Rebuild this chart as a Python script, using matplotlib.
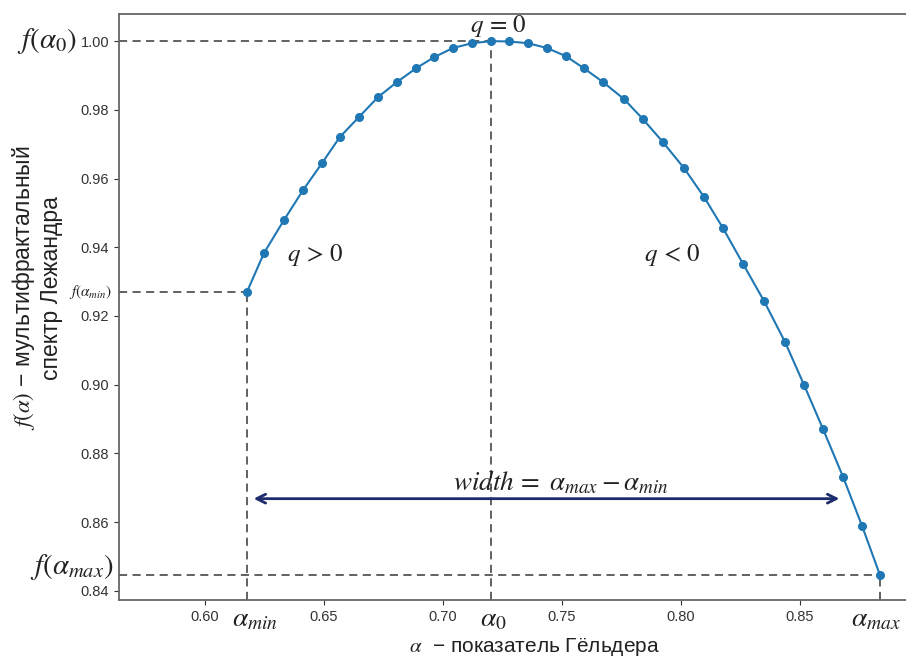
import matplotlib
matplotlib.use("Agg")
import matplotlib.pyplot as plt
import numpy as np

# Legendre multifractal spectrum f(alpha) versus the Hölder exponent alpha
alpha = [0.6176, 0.6248, 0.6332, 0.6412, 0.6492, 0.6567, 0.6647, 0.6727,
         0.6807, 0.6887, 0.6962, 0.7042, 0.7122, 0.7202, 0.7277, 0.7357,
         0.7437, 0.7517, 0.7592, 0.7672, 0.7761, 0.7840, 0.7924, 0.8013,
         0.8097, 0.8176, 0.8261, 0.8349, 0.8437, 0.8517, 0.8597, 0.8681,
         0.8761, 0.8836]
f_alpha = [0.9269, 0.9383, 0.9479, 0.9566, 0.9645, 0.9721, 0.9779, 0.9837,
           0.9881, 0.9921, 0.9953, 0.9980, 0.9994, 1.0000, 0.9999, 0.9994,
           0.9980, 0.9956, 0.9921, 0.9881, 0.9831, 0.9773, 0.9706, 0.9630,
           0.9546, 0.9456, 0.9351, 0.9243, 0.9124, 0.8999, 0.8870, 0.8731,
           0.8588, 0.8445]

x_ticks = [0.60, 0.65, 0.70, 0.75, 0.80, 0.85]
y_ticks = [0.84, 0.86, 0.88, 0.90, 0.92, 0.94, 0.96, 0.98, 1.00]

plt.rcParams['mathtext.fontset'] = 'stix'
plt.rcParams['font.family'] = ['Liberation Sans', 'DejaVu Sans']

i0 = int(np.argmax(f_alpha))
a_min, f_min = alpha[0], f_alpha[0]
a_max, f_max = alpha[-1], f_alpha[-1]
a_0, f_0 = alpha[i0], f_alpha[i0]

fig = plt.figure(figsize=(9.06, 6.57), dpi=100)
ax = fig.add_axes([119 / 906, 1 - 600 / 657, (950 - 119) / 906, (600 - 14) / 657])

x_lo, x_hi = 0.5639, 0.9130
y_lo, y_hi = 0.8373, 1.0079
ax.set_xlim(x_lo, x_hi)
ax.set_ylim(y_lo, y_hi)

ax.plot(alpha, f_alpha, color='#1f77b4', lw=1.5, marker='o', ms=5.5, zorder=3)

# guide lines to the characteristic points
guide = dict(color='#555555', lw=1.3, dashes=(4.5, 3), zorder=2)
for a, f in [(a_min, f_min), (a_0, f_0), (a_max, f_max)]:
    ax.plot([x_lo, a], [f, f], **guide)
    ax.plot([a, a], [y_lo, f], **guide)

ax.set_xticks(x_ticks)
ax.set_xticklabels([f"{t:.2f}" for t in x_ticks])
ax.set_yticks(y_ticks)
ax.set_yticklabels([f"{t:.2f}" for t in y_ticks])
ax.tick_params(labelsize=10.5, colors='#333333')
for s in ax.spines.values():
    s.set_color('#666666')
    s.set_linewidth(1.3)

ax.set_xlabel(r"$\alpha$  − показатель Гёльдера", fontsize=15, color='#222222', labelpad=9)
ax.set_ylabel("$f(\\alpha)$ − мультифрактальный\nспектр Лежандра", fontsize=16.5,
              color='#222222')
ax.yaxis.set_label_coords(-0.067, 0.532)

# names of the characteristic points along the axes
ax.annotate(r"$f(\alpha_0)$", xy=(0, f_0), xycoords=('axes fraction', 'data'),
            xytext=(-30, 0), textcoords='offset points', ha='right', va='center',
            fontsize=21, color='#222222', annotation_clip=False)
ax.annotate(r"$f(\alpha_{min})$", xy=(0, f_min), xycoords=('axes fraction', 'data'),
            xytext=(-5, 0), textcoords='offset points', ha='right', va='center',
            fontsize=11, color='#222222', annotation_clip=False)
ax.annotate(r"$f(\alpha_{max})$", xy=(0, f_max), xycoords=('axes fraction', 'data'),
            xytext=(-4, 6), textcoords='offset points', ha='right', va='center',
            fontsize=21, color='#222222', annotation_clip=False)
for a, s, dx in [(a_min, r"$\alpha_{min}$", 6), (a_0, r"$\alpha_0$", 2), (a_max, r"$\alpha_{max}$", -3)]:
    ax.annotate(s, xy=(a, 0), xycoords=('data', 'axes fraction'),
                xytext=(dx, -14), textcoords='offset points', ha='center', va='center',
                fontsize=20, color='#222222', annotation_clip=False)

ax.text(a_0 + 0.003, 1.0045, r"$q\,=\,0$", ha='center', va='center', fontsize=18, color='#222222')
ax.text(0.6462, 0.9377, r"$q\,>\,0$", ha='center', va='center', fontsize=18, color='#222222')
ax.text(0.7962, 0.9377, r"$q\,<\,0$", ha='center', va='center', fontsize=18, color='#222222')
ax.text(0.7496, 0.8716, r"$width\,=\ \alpha_{max}-\alpha_{min}$", ha='center', va='center',
        fontsize=19.5, color='#222222')

ax.annotate("", xy=(0.8677, 0.8668), xytext=(0.6193, 0.8668),
            arrowprops=dict(arrowstyle='<->', color='#1c2c6c', lw=2, mutation_scale=16))

fig.savefig("out.png", dpi=100)
